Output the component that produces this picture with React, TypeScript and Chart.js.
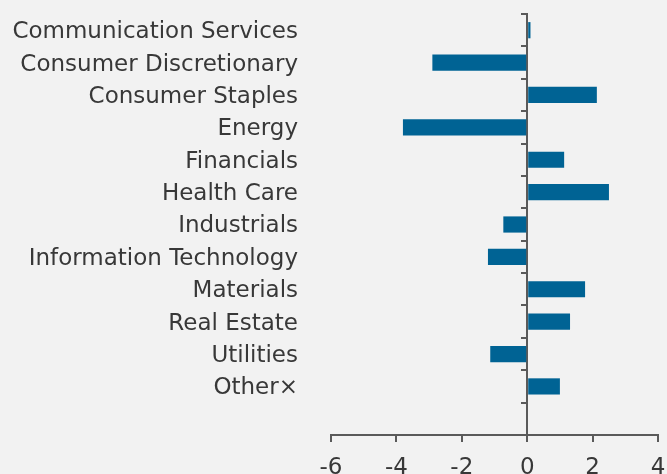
import React, { useEffect, useRef } from "react";
import { Chart, registerables } from "chart.js";

Chart.register(...registerables);

const categories: string[] = [
  "Communication Services",
  "Consumer Discretionary",
  "Consumer Staples",
  "Energy",
  "Financials",
  "Health Care",
  "Industrials",
  "Information Technology",
  "Materials",
  "Real Estate",
  "Utilities",
  "Other×",
  "",
];

const values: (number | null)[] = [
  0.1, -2.9, 2.13, -3.8, 1.13, 2.5, -0.73, -1.2, 1.77, 1.31, -1.13, 1.0, null,
];

const xMin = -6;
const xMax = 4;
const xStep = 2;

const BAR_COLOR = "#006394";
const AXIS_COLOR = "#5a5a5a";
const TEXT_COLOR = "#383838";
const BG = "#f2f2f2";
const FONT = "'DejaVu Sans', sans-serif";

function zeroPad(scale: any) {
  scale.paddingTop = 0;
  scale.paddingBottom = 0;
  scale.paddingLeft = 0;
  scale.paddingRight = 0;
}

export default function App() {
  const ref = useRef<HTMLCanvasElement | null>(null);

  useEffect(() => {
    if (!ref.current) return;
    const chart = new Chart(ref.current, {
      type: "bar",
      data: {
        labels: categories,
        datasets: [
          {
            data: values,
            backgroundColor: BAR_COLOR,
            borderWidth: 0,
            barPercentage: 0.5,
            categoryPercentage: 1,
            yAxisID: "y",
          },
        ],
      },
      options: {
        indexAxis: "y",
        animation: false,
        responsive: false,
        events: [],
        layout: { padding: { top: 14, right: 9, left: 0, bottom: 0 } },
        plugins: {
          legend: { display: false },
          tooltip: { enabled: false },
          title: { display: false },
        },
        scales: {
          x: {
            type: "linear",
            min: xMin,
            max: xMax,
            position: "bottom",
            ticks: {
              stepSize: xStep,
              color: TEXT_COLOR,
              font: { family: FONT, size: 23 },
              padding: 12,
            },
            grid: {
              display: true,
              drawOnChartArea: false,
              drawTicks: true,
              tickLength: 7,
              color: AXIS_COLOR,
              lineWidth: 2,
            },
            border: { display: true, color: AXIS_COLOR, width: 2 },
            afterFit: (scale: any) => {
              scale.height = 39;
              zeroPad(scale);
            },
          },
          y: {
            type: "category",
            position: "left",
            offset: true,
            ticks: {
              color: TEXT_COLOR,
              font: { family: FONT, size: 23 },
              padding: 33,
              labelOffset: 2,
              autoSkip: false,
            },
            grid: { display: false, drawTicks: false, offset: true },
            border: { display: false },
            afterFit: (scale: any) => {
              scale.width = 331;
              zeroPad(scale);
            },
          },
          y2: {
            type: "category",
            axis: "y",
            position: { x: 0 },
            offset: true,
            z: 1,
            ticks: { display: false, autoSkip: false },
            grid: {
              display: true,
              offset: true,
              drawOnChartArea: false,
              drawTicks: true,
              tickLength: 5,
              color: AXIS_COLOR,
              lineWidth: 2,
            },
            border: { display: true, color: AXIS_COLOR, width: 2 },
            afterFit: (scale: any) => {
              scale.width = 0;
              zeroPad(scale);
            },
          },
        },
      } as any,
    });
    return () => chart.destroy();
  }, []);

  return (
    <div
      style={{
        position: "fixed",
        left: 0,
        top: 0,
        width: 667,
        height: 474,
        background: BG,
        overflow: "hidden",
      }}
    >
      <canvas ref={ref} width={667} height={474} style={{ display: "block" }} />
    </div>
  );
}
